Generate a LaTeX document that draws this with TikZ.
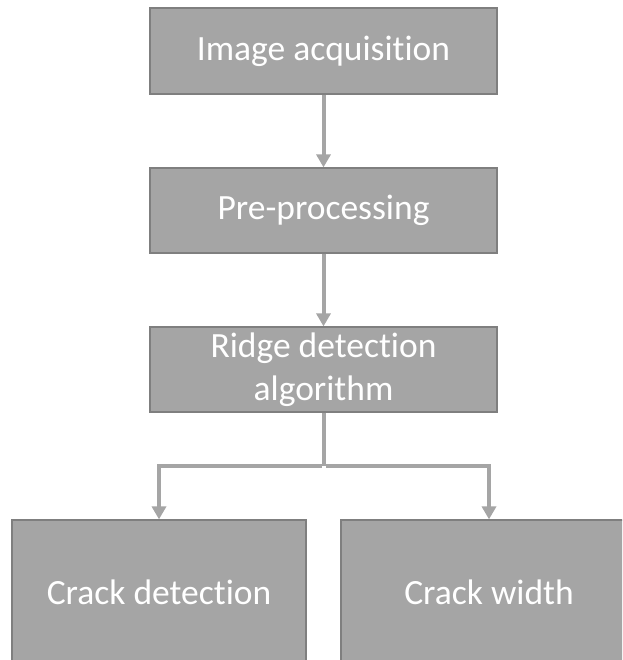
\documentclass[tikz,border=0pt]{standalone}
\usepackage{fontspec}
\setmainfont{Carlito}[Ligatures=CommonOff]
\usetikzlibrary{arrows.meta}
\definecolor{boxfill}{HTML}{A5A5A5}
\definecolor{boxline}{HTML}{7F7F7F}
\definecolor{arrowcol}{HTML}{A5A5A5}
\begin{document}
\begin{tikzpicture}[x=1pt,y=1pt,
  stepbox/.style={draw=boxline, line width=1.2pt, fill=boxfill, text=white,
    inner sep=0pt, align=center, font=\fontsize{35.5}{43}\selectfont},
  conn/.style={draw=arrowcol, line width=4pt},
  arr/.style={conn, -{Triangle[width=14pt,length=13pt]}}]
\useasboundingbox (0,0) rectangle (622,660);
\clip (0,0) rectangle (622,660);
\node[stepbox, minimum width=347pt, minimum height=86pt] (a) at (323.5,609) {Image acquisition};
\node[stepbox, minimum width=347pt, minimum height=85pt] (b) at (323.5,449.5) {Pre-processing};
\node[stepbox, minimum width=347pt, minimum height=85pt] (c) at (323.5,290.5) {Ridge detection\\algorithm};
\node[stepbox, minimum width=294pt, minimum height=144pt] (d) at (159,68) {Crack detection};
\node[stepbox, minimum width=296pt, minimum height=144pt] (e) at (489,68) {Crack width};
\coordinate (j) at (323.5,194);
\draw[arr] (a.south) -- (b.north);
\draw[arr] (b.south) -- (c.north);
\draw[conn] (c.south) -- (j);
\draw[arr] ([xshift=-2pt]j) -| (d.north);
\draw[arr] ([xshift=2pt]j) -| (e.north);
\end{tikzpicture}
\end{document}
